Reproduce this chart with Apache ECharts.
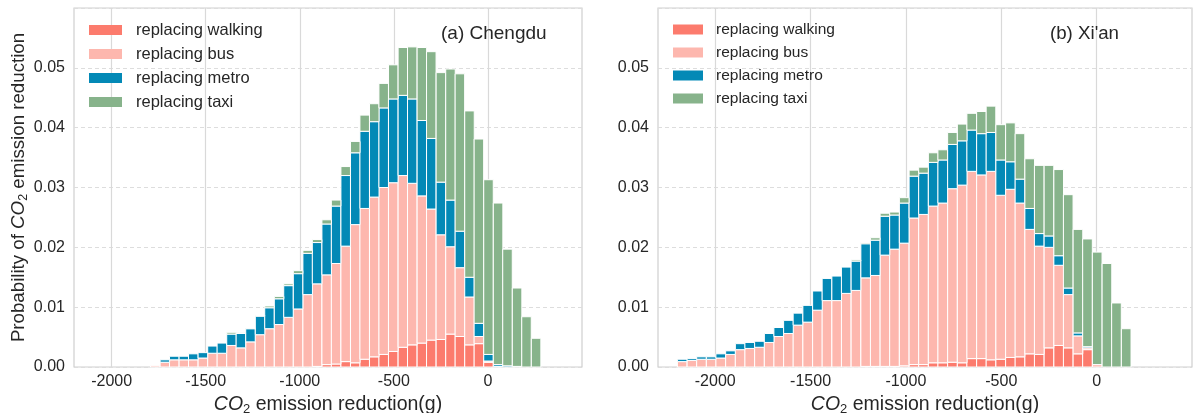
<!DOCTYPE html>
<html>
<head>
<meta charset="utf-8">
<script src="https://cdn.jsdelivr.net/npm/echarts@6/dist/echarts.min.js"></script>
<style>
html,body{margin:0;padding:0;background:#ffffff;}
#chart{width:1195px;height:413px;}
</style>
</head>
<body>
<div id="chart"></div>
<script>
// ---------------- data ----------------
const seriesNames = ['replacing walking', 'replacing bus', 'replacing metro', 'replacing taxi'];
const panelTitles = ['(a) Chengdu', "(b) Xi'an"];
const xTickValues = [-2000, -1500, -1000, -500, 0];
const BIN_WIDTH = 50.6; // histogram bin width (g)

// Chengdu: bin centres and per-mode probability (segment heights)
const chengduBins = [-1768,-1717,-1667,-1616,-1566,-1515,-1464,-1414,-1363,-1313,-1262,-1211,-1161,-1110,-1060,-1009,-958,-908,-857,-807,-756,-705,-655,-604,-554,-503,-452,-402,-351,-301,-250,-199,-149,-98,-48,3,54,104,155,205,256];
const chengduWalking = [0,0,0,0,0,0,0,0,0,0,0,0,0,0,0,0,0,0.0001,0.0004,0.0005,0.0009,0.0007,0.0013,0.0017,0.0021,0.0026,0.0033,0.0037,0.0040,0.0045,0.0046,0.0055,0.0051,0.0037,0.0039,0.0008,0,0,0,0,0];
const chengduBus = [0.0002,0.0008,0.0012,0.0012,0.0012,0.0015,0.0023,0.0023,0.0036,0.0032,0.0042,0.0054,0.0064,0.0071,0.0083,0.0097,0.0121,0.0138,0.0150,0.0168,0.0193,0.0231,0.0252,0.0267,0.0279,0.0282,0.0287,0.0270,0.0246,0.0219,0.0175,0.0146,0.0115,0.0080,0.0012,0.0002,0.0001,0,0,0,0];
const chengduMetro = [0,0.0004,0.0006,0.0006,0.0010,0.0009,0.0012,0.0017,0.0019,0.0024,0.0022,0.0031,0.0035,0.0043,0.0053,0.0059,0.0069,0.0069,0.0085,0.0096,0.0118,0.0120,0.0129,0.0126,0.0133,0.0140,0.0134,0.0141,0.0126,0.0118,0.0088,0.0078,0.0061,0.0033,0.0022,0.0011,0.0003,0.0002,0.0001,0,0];
const chengduTaxi = [0,0,0,0,0,0,0,0,0.0003,0.0001,0.0001,0.0001,0.0003,0.0004,0.0003,0.0005,0.0005,0.0005,0.0007,0.0010,0.0015,0.0019,0.0027,0.0030,0.0041,0.0057,0.0080,0.0087,0.0122,0.0145,0.0183,0.0219,0.0263,0.0278,0.0308,0.0292,0.0270,0.0195,0.0131,0.0084,0.0048];

// Xi'an
const xianBins = [-2173,-2122,-2072,-2021,-1971,-1920,-1869,-1819,-1768,-1717,-1667,-1616,-1566,-1515,-1464,-1414,-1363,-1313,-1262,-1211,-1161,-1110,-1060,-1009,-958,-908,-857,-807,-756,-705,-655,-604,-554,-503,-452,-402,-351,-301,-250,-199,-149,-98,-48,3,54,104,155];
const xianWalking = [0,0,0,0,0,0,0,0,0,0,0,0,0,0,0,0,0,0,0,0.0001,0.0001,0.0001,0.0001,0.0002,0.0004,0.0004,0.0007,0.0007,0.0008,0.0007,0.0014,0.0014,0.0012,0.0013,0.0016,0.0017,0.0022,0.0021,0.0032,0.0036,0.0032,0.0022,0.0029,0,0,0,0];
const xianBus = [0.0009,0.0011,0.0013,0.0013,0.0015,0.0021,0.0029,0.0031,0.0033,0.0041,0.0051,0.0056,0.0070,0.0075,0.0095,0.0111,0.0111,0.0123,0.0128,0.0148,0.0152,0.0186,0.0196,0.0205,0.0245,0.0251,0.0262,0.0267,0.0290,0.0297,0.0313,0.0307,0.0315,0.0274,0.0281,0.0257,0.0208,0.0181,0.0168,0.0134,0.0089,0.0030,0.0003,0.0004,0,0,0];
const xianMetro = [0.0004,0.0003,0.0004,0.0004,0.0007,0.0006,0.0010,0.0010,0.0010,0.0015,0.0015,0.0022,0.0020,0.0028,0.0032,0.0037,0.0041,0.0044,0.0049,0.0057,0.0059,0.0065,0.0057,0.0067,0.0070,0.0069,0.0073,0.0072,0.0074,0.0074,0.0069,0.0069,0.0065,0.0059,0.0046,0.0040,0.0035,0.0021,0.0019,0.0016,0.0011,0.0005,0.0002,0,0,0,0];
const xianTaxi = [0,0,0,0,0,0,0,0,0,0,0,0,0,0,0,0,0,0,0.0002,0.0002,0.0004,0.0005,0.0005,0.0009,0.0010,0.0010,0.0016,0.0017,0.0020,0.0028,0.0028,0.0037,0.0044,0.0059,0.0065,0.0076,0.0083,0.0114,0.0118,0.0144,0.0156,0.0173,0.0180,0.0188,0.0173,0.0107,0.0064];

// ---------------- styling ----------------
const COLORS = ['#FC7B6D', '#FDB7AE', '#0389B6', '#87B38B'];
const FONT = 'Liberation Sans, Arial, Helvetica, sans-serif';
const TEXT = '#262626';

const panels = [
  { bins: chengduBins, values: [chengduWalking, chengduBus, chengduMetro, chengduTaxi], xMin: -2200, xMax: 500,
    grid: { left: 74, top: 8, width: 508, height: 359 } },
  { bins: xianBins, values: [xianWalking, xianBus, xianMetro, xianTaxi], xMin: -2300, xMax: 500,
    grid: { left: 658, top: 8, width: 534, height: 359 } }
];

function renderBar(params, api) {
  const v = api.value(1);
  if (!(v > 0)) return null;
  const x = api.value(0), b = api.value(2);
  const tl = api.coord([x - BIN_WIDTH / 2, b + v]);
  const br = api.coord([x + BIN_WIDTH / 2, b]);
  return {
    type: 'rect',
    shape: { x: tl[0], y: tl[1], width: br[0] - tl[0], height: br[1] - tl[1] },
    style: { fill: api.visual('color'), stroke: '#ffffff', lineWidth: 1 }
  };
}

const grids = [], xAxes = [], yAxes = [], series = [];
const subRich = {
  n: { fontFamily: FONT, color: TEXT },
  i: { fontFamily: FONT, color: TEXT, fontStyle: 'italic' },
  s: { fontFamily: FONT, color: TEXT, padding: [9, 0, 0, 0] }
};

panels.forEach((p, pi) => {
  grids.push(Object.assign({ show: true, borderColor: '#cfcfcf', borderWidth: 1.2, backgroundColor: '#ffffff',
    containLabel: false, outerBoundsMode: 'none' }, p.grid));
  xAxes.push({
    type: 'value', gridIndex: pi, min: p.xMin, max: p.xMax, interval: 500,
    axisLine: { show: false },
    axisTick: { show: false, customValues: xTickValues },
    axisLabel: { customValues: xTickValues, fontSize: 16, color: TEXT, fontFamily: FONT, margin: 7,
      formatter: v => String(v) },
    splitLine: { show: true, lineStyle: { color: '#d9d9d9', width: 1.2, type: 'solid' } },
    name: '{i|CO}{s|2}{n| emission reduction(g)}',
    nameLocation: 'middle', nameGap: 22,
    nameTextStyle: {
      fontSize: 19.5, color: TEXT, fontFamily: FONT,
      rich: {
        n: Object.assign({}, subRich.n, { fontSize: 19.5 }),
        i: Object.assign({}, subRich.i, { fontSize: 19.5 }),
        s: Object.assign({}, subRich.s, { fontSize: 13 })
      }
    }
  });
  const yAx = {
    type: 'value', gridIndex: pi, min: 0, max: 0.06, interval: 0.01,
    axisLine: { show: false }, axisTick: { show: false },
    axisLabel: { fontSize: 16, color: TEXT, fontFamily: FONT, margin: 9, showMaxLabel: false,
      formatter: v => v.toFixed(2) },
    splitLine: { show: true, lineStyle: { color: '#dddddd', width: 1, type: [4, 3] } }
  };
  if (pi === 0) {
    Object.assign(yAx, {
      name: '{n|Probability of }{i|CO}{s|2}{n| emission reduction}',
      nameLocation: 'middle', nameGap: 44, nameRotate: 90,
      nameTextStyle: {
        fontSize: 18.7, color: TEXT, fontFamily: FONT,
        rich: {
          n: Object.assign({}, subRich.n, { fontSize: 18.7 }),
          i: Object.assign({}, subRich.i, { fontSize: 18.7 }),
          s: Object.assign({}, subRich.s, { fontSize: 12.5 })
        }
      }
    });
  }
  yAxes.push(yAx);

  const base = p.bins.map(() => 0);
  p.values.forEach((vals, ci) => {
    const data = p.bins.map((x, i) => [x, vals[i], base[i]]);
    vals.forEach((v, i) => { base[i] += v; });
    series.push({
      type: 'custom', name: seriesNames[ci], xAxisIndex: pi, yAxisIndex: pi,
      renderItem: renderBar, encode: { x: 0, y: 1 },
      itemStyle: { color: COLORS[ci] }, data: data, z: 2 + ci
    });
  });
});

const option = {
  animation: false,
  backgroundColor: '#ffffff',
  textStyle: { fontFamily: FONT },
  title: [
    { text: panelTitles[0], left: 441, top: 24, padding: 0,
      textStyle: { fontSize: 19, fontWeight: 'normal', color: TEXT, fontFamily: FONT } },
    { text: panelTitles[1], left: 1050, top: 24, padding: 0,
      textStyle: { fontSize: 18.7, fontWeight: 'normal', color: TEXT, fontFamily: FONT } }
  ],
  legend: [
    { data: seriesNames.map(n => ({ name: n, icon: 'rect' })), orient: 'vertical', left: 89, top: 21, padding: 0,
      itemWidth: 33, itemHeight: 10, itemGap: 6, selectedMode: false,
      textStyle: { fontSize: 16.5, lineHeight: 18, color: TEXT, fontFamily: FONT, padding: [0, 0, 0, 9] } },
    { data: seriesNames.map(n => ({ name: n, icon: 'rect' })), orient: 'vertical', left: 673, top: 21, padding: 0,
      itemWidth: 30, itemHeight: 10, itemGap: 6, selectedMode: false,
      textStyle: { fontSize: 15.5, lineHeight: 17, color: TEXT, fontFamily: FONT, padding: [0, 0, 0, 8] } }
  ],
  grid: grids,
  xAxis: xAxes,
  yAxis: yAxes,
  series: series
};

const chart = echarts.init(document.getElementById('chart'), null, { renderer: 'canvas' });
chart.setOption(option);
</script>
</body>
</html>
